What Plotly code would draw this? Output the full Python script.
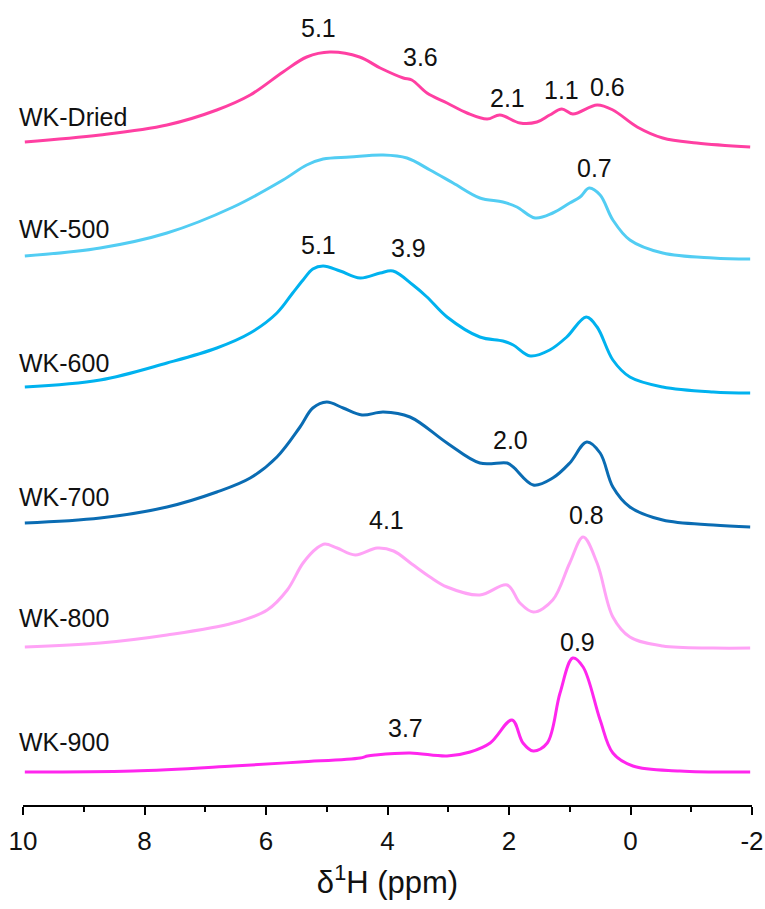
import plotly.graph_objects as go

# ---------------- data ----------------
names = ["WK-Dried", "WK-500", "WK-600", "WK-700", "WK-800", "WK-900"]
colors = ["#ff3fa2", "#52cdf3", "#00b2ef", "#0a6cb3", "#ffa3f6", "#ff26ee"]
offsets = [658, 546, 412, 278, 157, 33]

ppm_dried = [9.97, 8.73, 7.63, 6.81, 6.26, 5.72, 5.33, 4.95, 4.46, 4.12, 3.74, 3.60, 3.35,
             3.02, 2.69, 2.36, 2.15, 1.82, 1.54, 1.33, 1.13, 0.95, 0.55, 0.29, -0.11, -0.53,
             -1.09, -1.97]
int_dried = [5, 12, 22, 37, 52, 75, 90, 95, 90, 79, 69, 67, 54, 44, 34, 28, 32, 24, 25, 32,
             38, 33, 42, 37, 20, 9, 4, 0]

ppm_500 = [9.97, 8.73, 7.63, 6.54, 5.72, 5.33, 5.06, 4.62, 4.07, 3.68, 3.30, 2.92, 2.48, 2.10,
           1.87, 1.57, 1.28, 1.00, 0.83, 0.68, 0.50, 0.29, 0.01, -0.53, -1.36, -1.97]
int_500 = [3, 11, 26, 52, 79, 94, 100, 102, 104, 101, 89, 76, 61, 57, 52, 41, 46, 56, 62, 71,
           64, 39, 19, 6, 1, 0]

ppm_600 = [9.97, 8.73, 7.63, 6.81, 6.26, 5.82, 5.56, 5.39, 5.23, 5.06, 4.78, 4.45, 4.12, 3.91,
           3.58, 3.35, 3.02, 2.48, 2.10, 1.93, 1.65, 1.33, 1.05, 0.73, 0.55, 0.29, 0.01, -0.53,
           -1.36, -1.97]
int_600 = [6, 13, 30, 45, 60, 80, 100, 113, 124, 127, 122, 115, 120, 122, 108, 96, 76, 56, 52,
           48, 37, 43, 56, 76, 66, 33, 16, 6, 1, 0]

ppm_700 = [9.97, 8.73, 7.63, 6.81, 6.26, 5.82, 5.44, 5.23, 5.00, 4.73, 4.42, 4.07, 3.63, 3.02,
           2.48, 2.03, 1.93, 1.60, 1.28, 1.00, 0.72, 0.50, 0.29, 0.01, -0.53, -1.36, -1.97]
int_700 = [4, 9, 20, 35, 49, 70, 100, 119, 125, 119, 112, 115, 110, 84, 64, 64, 60, 42, 49, 64,
           85, 74, 40, 20, 7, 2, 0]

ppm_800 = [9.97, 8.73, 7.63, 6.54, 5.98, 5.65, 5.39, 5.16, 5.03, 4.83, 4.53, 4.17, 3.90, 3.60,
           3.30, 3.02, 2.48, 2.03, 1.82, 1.60, 1.28, 1.00, 0.78, 0.55, 0.29, 0.01, -0.53, -1.36,
           -1.97]
int_800 = [1, 5, 13, 25, 38, 58, 85, 100, 104, 100, 93, 100, 97, 84, 71, 61, 53, 63, 45, 36,
           48, 85, 111, 85, 31, 11, 2, 0, 0]

ppm_900 = [9.97, 8.19, 6.54, 5.44, 4.45, 4.33, 4.20, 3.63, 3.02, 2.64, 2.31, 1.95, 1.77, 1.60,
           1.37, 1.16, 0.95, 0.78, 0.50, 0.29, -0.04, -0.81, -1.97]
int_900 = [0, 1, 6, 10, 14, 16, 17, 19, 16, 20, 29, 52, 29, 21, 29, 79, 114, 105, 52, 19, 6, 1, 0]

ppm_sets = [ppm_dried, ppm_500, ppm_600, ppm_700, ppm_800, ppm_900]
int_sets = [int_dried, int_500, int_600, int_700, int_800, int_900]

# peak labels: (spectrum index, text, ppm position, height above baseline)
peak_text = ["5.1", "3.6", "2.1", "1.1", "0.6", "0.7", "5.1", "3.9", "2.0", "4.1", "0.8", "3.7", "0.9"]
peak_series = [0, 0, 0, 0, 0, 1, 2, 2, 3, 4, 4, 5, 5]
peak_ppm = [5.13, 3.45, 2.02, 1.13, 0.38, 0.60, 5.13, 3.65, 1.97, 4.02, 0.72, 3.70, 0.87]
peak_h = [119, 90, 49, 57, 60, 91, 148, 145, 87, 128, 133, 44, 130]

FONT = "Liberation Sans, Arial, sans-serif"

fig = go.Figure()
for name, col, off, xs, ys in zip(names, colors, offsets, ppm_sets, int_sets):
    fig.add_trace(go.Scatter(
        x=xs, y=[v + off for v in ys], mode="lines", name=name,
        line=dict(color=col, width=3, shape="spline", smoothing=1.0),
        showlegend=False, hoverinfo="skip"))

annotations = []
# sample names (left of the first data point)
for name, off in zip(names, offsets):
    annotations.append(dict(x=-0.008, y=off + 30, xref="paper", yref="y", text=name,
                            showarrow=False, xanchor="left", yanchor="middle",
                            font=dict(size=25, color="#111111", family=FONT)))
for t, s, p, h in zip(peak_text, peak_series, peak_ppm, peak_h):
    annotations.append(dict(x=p, y=offsets[s] + h, xref="x", yref="y", text=t,
                            showarrow=False, xanchor="center", yanchor="middle",
                            font=dict(size=25, color="#111111", family=FONT)))

fig.update_layout(
    width=765, height=909,
    margin=dict(l=23, r=13, t=0, b=104),
    paper_bgcolor="white", plot_bgcolor="white",
    annotations=annotations,
    xaxis=dict(range=[10, -2], tickvals=[10, 8, 6, 4, 2, 0, -2],
               ticktext=["10", "8", "6", "4", "2", "0", "-2"],
               ticks="outside", ticklen=8, tickwidth=2, tickcolor="black",
               minor=dict(tickvals=[9, 7, 5, 3, 1, -1], ticks="outside", ticklen=5,
                          tickwidth=2, tickcolor="black"),
               showline=True, linewidth=2, linecolor="black", showgrid=False, zeroline=False,
               tickfont=dict(size=26, color="#111111", family=FONT),
               ticklabelstandoff=4,
               title=dict(text="δ<sup>1</sup>H (ppm)", standoff=16,
                          font=dict(size=31, color="#111111", family=FONT))),
    yaxis=dict(range=[0, 805], visible=False, showgrid=False, zeroline=False),
)

fig.write_html("out.html")
